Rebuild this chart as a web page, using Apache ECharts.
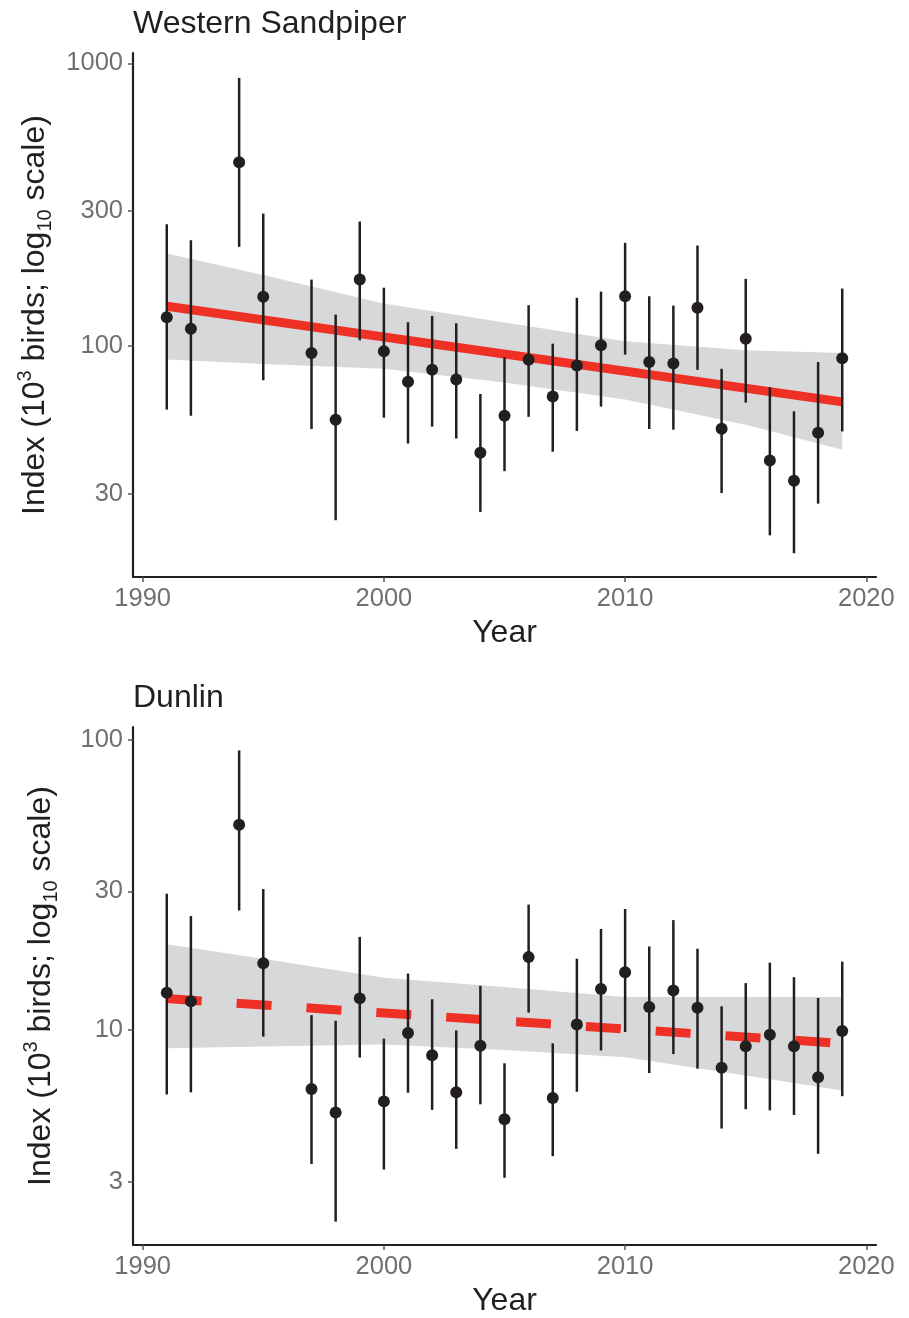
<!DOCTYPE html>
<html>
<head>
<meta charset="utf-8">
<script src="https://cdn.jsdelivr.net/npm/echarts@6/dist/echarts.min.js"></script>
<style>
  html, body { margin: 0; padding: 0; background: #fff; }
  #chart { width: 909px; height: 1318px; }
</style>
</head>
<body>
<div id="chart"></div>
<script>
var years = [1991, 1992, 1994, 1995, 1997, 1998, 1999, 2000, 2001, 2002, 2003, 2004, 2005, 2006,
  2007, 2008, 2009, 2010, 2011, 2012, 2013, 2014, 2015, 2016, 2017, 2018, 2019];

// Western Sandpiper (10^3 birds)
var wsIndex = [126.5, 115.1, 447.3, 149.6, 94.6, 54.9, 171.9, 95.9, 74.8, 82.4, 76.1, 41.9, 56.7, 89.4,
  66.3, 85.3, 100.7, 150.1, 87.9, 86.7, 136.6, 51.0, 106.1, 39.4, 33.4, 49.4, 90.5];
var wsLow = [59.6, 56.7, 224.4, 75.7, 50.9, 24.2, 104.8, 55.8, 45.2, 51.9, 47.1, 25.9, 36.1, 56.2,
  42.3, 50.1, 61.1, 93.3, 50.9, 50.6, 82.4, 30.2, 63.1, 21.4, 18.5, 27.7, 49.9];
var wsHigh = [269.8, 236.9, 889, 294.3, 171.9, 129.3, 275.9, 160.9, 121.4, 127.9, 120.4, 67.7, 91.3, 139.5,
  102.0, 148.2, 155.9, 231.9, 150.1, 139.1, 226.9, 83.1, 172.9, 71.5, 58.8, 87.9, 159.8];

// Dunlin (10^3 birds)
var dnIndex = [13.44, 12.56, 50.9, 16.96, 6.26, 5.20, 12.85, 5.68, 9.77, 8.19, 6.11, 8.82, 4.93, 17.82,
  5.83, 10.45, 13.83, 15.80, 12.01, 13.69, 11.94, 7.42, 8.79, 9.64, 8.79, 6.88, 9.92];
var dnLow = [6.00, 6.10, 25.78, 9.49, 3.46, 2.19, 8.04, 3.31, 6.08, 5.31, 3.90, 5.55, 3.10, 11.48,
  3.68, 6.13, 8.50, 9.85, 7.11, 8.26, 7.36, 4.58, 5.34, 5.29, 5.10, 3.75, 5.92];
var dnHigh = [29.45, 24.67, 91.7, 30.57, 11.25, 10.76, 20.92, 9.34, 15.64, 12.76, 9.97, 14.19, 7.68, 27.02,
  9.00, 17.60, 22.28, 26.09, 19.39, 23.90, 19.04, 12.07, 14.50, 17.05, 15.20, 12.89, 17.19];

// trend lines and confidence ribbons
var trendYears = [1991, 2019];
var wsTrend = [138.3, 63.5];
var dnTrend = [12.83, 8.99];
var bandYears = [1991, 1995, 2000, 2005, 2010, 2015, 2019];
var wsBandLow = [89.6, 86.5, 83.1, 74.3, 64.7, 52.7, 43.0];
var wsBandHigh = [212.5, 178.6, 141.4, 121.1, 104.0, 96.6, 94.6];
var dnBandLow = [8.66, 8.77, 8.91, 8.54, 8.06, 6.97, 6.19];
var dnBandHigh = [19.74, 17.60, 15.14, 14.05, 12.99, 12.99, 12.99];

var xTicks = [1990, 2000, 2010, 2020];
var wsTicks = [30, 100, 300, 1000];
var dnTicks = [3, 10, 30, 100];

var FONT = "'Liberation Sans', Arial, sans-serif";
var RED = '#ee3124';
var INK = '#231f20';
var lg = function (v) { return Math.log10(v); };

function yAxisFor(gridIndex, ticks, min, max) {
  var tv = ticks.map(lg);
  return {
    type: 'value', gridIndex: gridIndex, min: min, max: max,
    name: '{a|Index (10}{sup|3}{a| birds; log}{sub|10}{a| scale)}',
    nameLocation: 'middle', nameRotate: 90, nameGap: 72,
    nameTextStyle: {
      rich: {
        a: { fontFamily: FONT, fontSize: 32, color: INK, lineHeight: 40 },
        sup: { fontFamily: FONT, fontSize: 20, color: INK, verticalAlign: 'top', lineHeight: 20 },
        sub: { fontFamily: FONT, fontSize: 20, color: INK, verticalAlign: 'bottom', lineHeight: 20 }
      }
    },
    axisLine: { show: true, lineStyle: { color: INK, width: 2.2 } },
    axisTick: { show: true, length: 5, customValues: tv, lineStyle: { color: '#555', width: 1.5 } },
    axisLabel: {
      customValues: tv, margin: 10, fontFamily: FONT, fontSize: 25.5, color: '#707070',
      formatter: function (v) { return String(Math.round(Math.pow(10, v))); }
    },
    splitLine: { show: false }
  };
}

function xAxisFor(gridIndex) {
  return {
    type: 'value', gridIndex: gridIndex, min: 1989.6, max: 2020.4,
    name: 'Year', nameLocation: 'middle', nameGap: 40,
    nameTextStyle: { fontFamily: FONT, fontSize: 32, color: INK },
    axisLine: { show: true, lineStyle: { color: INK, width: 2.2 } },
    axisTick: { show: true, length: 5, customValues: xTicks, lineStyle: { color: '#555', width: 1.5 } },
    axisLabel: {
      customValues: xTicks, margin: 9, fontFamily: FONT, fontSize: 25.5, color: '#707070',
      formatter: function (v) { return String(v); }
    },
    splitLine: { show: false }
  };
}

function panelSeries(idx, index, low, high, trend, bandLow, bandHigh, dashed) {
  return [
    {
      // confidence ribbon drawn as one polygon through the axis scales
      type: 'custom', xAxisIndex: idx, yAxisIndex: idx, z: 1, silent: true,
      data: bandYears.map(function (y, i) { return [y, lg(bandLow[i]), lg(bandHigh[i])]; }),
      renderItem: function (params, api) {
        if (params.dataIndex !== 0) return null;
        var pts = [];
        var i;
        for (i = 0; i < bandYears.length; i++) pts.push(api.coord([bandYears[i], lg(bandHigh[i])]));
        for (i = bandYears.length - 1; i >= 0; i--) pts.push(api.coord([bandYears[i], lg(bandLow[i])]));
        return {
          type: 'polygon',
          shape: { points: pts },
          style: { fill: '#d7d8da', stroke: null }
        };
      }
    },
    {
      type: 'line', xAxisIndex: idx, yAxisIndex: idx, z: 2, symbol: 'none', silent: true,
      lineStyle: { color: RED, width: 9, type: dashed ? [35, 35] : 'solid', cap: 'butt' },
      data: trendYears.map(function (y, i) { return [y, lg(trend[i])]; })
    },
    {
      type: 'custom', xAxisIndex: idx, yAxisIndex: idx, z: 3, silent: true,
      data: years.map(function (y, i) { return [y, lg(low[i]), lg(high[i])]; }),
      renderItem: function (params, api) {
        var p1 = api.coord([api.value(0), api.value(1)]);
        var p2 = api.coord([api.value(0), api.value(2)]);
        return {
          type: 'line',
          shape: { x1: p1[0], y1: p1[1], x2: p2[0], y2: p2[1] },
          style: { stroke: INK, lineWidth: 2.5 }
        };
      }
    },
    {
      type: 'scatter', xAxisIndex: idx, yAxisIndex: idx, z: 4, symbolSize: 12, silent: true,
      itemStyle: { color: INK, opacity: 1 },
      data: years.map(function (y, i) { return [y, lg(index[i])]; })
    }
  ];
}

var chart = echarts.init(document.getElementById('chart'));
var option = {
  animation: false,
  backgroundColor: '#fff',
  title: [
    { text: 'Western Sandpiper', left: 133, top: 8, padding: 0,
      textStyle: { fontFamily: FONT, fontSize: 32, fontWeight: 'normal', color: INK } },
    { text: 'Dunlin', left: 133, top: 682, padding: 0,
      textStyle: { fontFamily: FONT, fontSize: 32, fontWeight: 'normal', color: INK } }
  ],
  grid: [
    { left: 133, top: 53, width: 743, height: 524 },
    { left: 133, top: 727, width: 743, height: 523 }
  ],
  xAxis: [xAxisFor(0), xAxisFor(1)],
  yAxis: [
    yAxisFor(0, wsTicks, 1.183, 3.037),
    yAxisFor(1, dnTicks, 0.260, 2.043)
  ],
  series: panelSeries(0, wsIndex, wsLow, wsHigh, wsTrend, wsBandLow, wsBandHigh, false)
    .concat(panelSeries(1, dnIndex, dnLow, dnHigh, dnTrend, dnBandLow, dnBandHigh, true))
};
chart.setOption(option);
</script>
</body>
</html>
